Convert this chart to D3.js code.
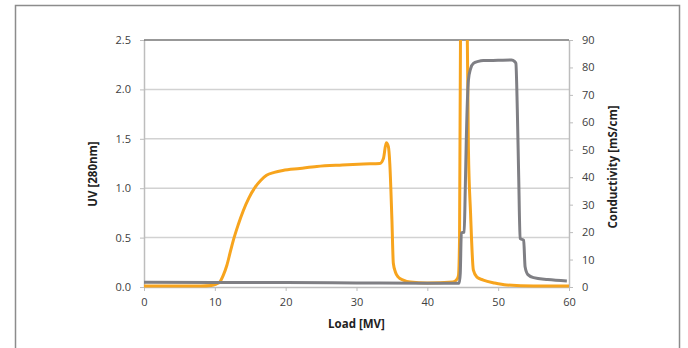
<!DOCTYPE html>
<meta charset="utf-8">
<html>
<head>
  <title>UV and conductivity vs load</title>
  <script src="https://d3js.org/d3.v7.min.js"></script>
  <style>
    body { margin: 0; background: #fff; }
    text { font-family: "Open Sans", "DejaVu Sans", sans-serif; }
  </style>
</head>
<body>
<div id="chart"></div>
<script>
  // load in MV
  var uvLoad = [0, 5, 8, 9.5, 10.2, 10.7, 11.2, 11.7, 12.2, 12.6, 13.3, 14.0, 14.8, 15.7, 16.5, 17.3, 18.4, 19.6, 22, 24.4, 28, 31, 33.3, 33.8, 34.2, 34.5, 34.7, 35.0, 35.2, 35.5, 35.9, 36.6, 37.6, 40, 43.6, 44.2, 44.4, 44.55, 44.7, 45.0, 45.4, 45.6, 45.8, 46.1, 46.5, 47.0, 47.9, 49.5, 51.2, 55, 60];
  var uvValue = [0.01, 0.01, 0.01, 0.015, 0.03, 0.05, 0.12, 0.22, 0.36, 0.47, 0.63, 0.77, 0.9, 1.01, 1.08, 1.13, 1.16, 1.18, 1.2, 1.22, 1.235, 1.245, 1.25, 1.3, 1.46, 1.42, 1.25, 0.68, 0.24, 0.15, 0.10, 0.07, 0.05, 0.04, 0.05, 0.08, 0.12, 0.5, 2.8, 3, 3, 2.8, 1.4, 0.75, 0.17, 0.1, 0.07, 0.04, 0.02, 0.01, 0.01];

  var condLoad = [0, 10, 20, 30, 40, 44.5, 44.65, 44.8, 45.2, 45.35, 45.5, 45.8, 46.1, 46.5, 47.2, 47.9, 50, 51.9, 52.3, 52.5, 52.7, 52.9, 53.1, 53.6, 53.8, 54.2, 55.0, 57, 59.7];
  var condValue = [1.7, 1.6, 1.6, 1.5, 1.4, 1.4, 5, 19.7, 20, 35, 53.5, 75.4, 79.5, 81.5, 82.2, 82.5, 82.6, 82.7, 82.2, 81.5, 65, 40, 17.7, 17, 7.4, 4.5, 3.4, 2.7, 2.2];

  var xTicks = [0, 10, 20, 30, 40, 50, 60];
  var uvTicks = [0, 0.5, 1.0, 1.5, 2.0, 2.5];
  var condTicks = [0, 10, 20, 30, 40, 50, 60, 70, 80, 90];

  var W = 688, H = 348;
  var margin = { top: 40, right: 119, bottom: 61, left: 144 };
  var width = W - margin.left - margin.right,
      height = H - margin.top - margin.bottom;

  var root = d3.select("#chart").append("svg")
    .attr("width", W).attr("height", H);

  // outer frame
  root.append("rect")
    .attr("x", 15.5).attr("y", 5.5)
    .attr("width", 664).attr("height", 360)
    .attr("fill", "none").attr("stroke", "#8c8c8c").attr("stroke-width", 1.5);

  var svg = root.append("g")
    .attr("transform", "translate(" + margin.left + "," + margin.top + ")");

  var x = d3.scaleLinear().domain([0, 60]).range([0, width]);
  var yUV = d3.scaleLinear().domain([0, 2.5]).range([height, 0]);
  var yCond = d3.scaleLinear().domain([0, 90]).range([height, 0]);

  // gridlines
  svg.append("g")
    .selectAll("line")
    .data(uvTicks.slice(1, -1))
    .enter().append("line")
    .attr("x1", 0).attr("x2", width)
    .attr("y1", function (d) { return yUV(d); })
    .attr("y2", function (d) { return yUV(d); })
    .attr("stroke", "#d2d2d2").attr("stroke-width", 1.5);

  function styleAxis(g) {
    g.select(".domain").attr("stroke", "#bdbdbd").attr("stroke-width", 1.5);
    g.selectAll(".tick line").attr("stroke", "#bdbdbd");
    g.selectAll(".tick text").attr("fill", "#404040").style("font-size", "11px");
  }

  svg.append("g")
    .attr("transform", "translate(0," + height + ")")
    .call(d3.axisBottom(x).tickValues(xTicks).tickSize(4).tickSizeOuter(0).tickPadding(7))
    .call(styleAxis);

  svg.append("g")
    .call(d3.axisLeft(yUV).tickValues(uvTicks).tickFormat(d3.format(".1f")).tickSize(4).tickSizeOuter(0).tickPadding(9))
    .call(styleAxis);

  svg.append("g")
    .attr("transform", "translate(" + width + ",0)")
    .call(d3.axisRight(yCond).tickValues(condTicks).tickSize(4).tickSizeOuter(0).tickPadding(9))
    .call(styleAxis);

  // dark top border
  svg.append("line")
    .attr("x1", 0).attr("x2", width).attr("y1", 0).attr("y2", 0)
    .attr("stroke", "#333").attr("stroke-width", 1.2);

  svg.append("clipPath").attr("id", "plot")
    .append("rect").attr("x", 0).attr("y", 0).attr("width", width).attr("height", height + 3);

  var uvLine = d3.line()
    .x(function (d) { return x(d[0]); })
    .y(function (d) { return yUV(d[1]); })
    .curve(d3.curveMonotoneX);

  var condLine = d3.line()
    .x(function (d) { return x(d[0]); })
    .y(function (d) { return yCond(d[1]); })
    .curve(d3.curveMonotoneX);

  svg.append("path")
    .datum(d3.zip(uvLoad, uvValue))
    .attr("clip-path", "url(#plot)")
    .attr("d", uvLine)
    .attr("fill", "none").attr("stroke", "#f7a41d").attr("stroke-width", 3)
    .attr("stroke-linejoin", "round");

  svg.append("path")
    .datum(d3.zip(condLoad, condValue))
    .attr("clip-path", "url(#plot)")
    .attr("d", condLine)
    .attr("fill", "none").attr("stroke", "#7f7f84").attr("stroke-width", 3)
    .attr("stroke-linejoin", "round");

  // axis titles
  svg.append("text")
    .attr("x", width / 2).attr("y", height + 41)
    .attr("text-anchor", "middle")
    .style("font-size", "11.5px").style("font-weight", "bold").attr("fill", "#222")
    .text("Load [MV]");

  svg.append("text")
    .attr("transform", "translate(" + (-47) + "," + 134 + ") rotate(-90)")
    .attr("text-anchor", "middle")
    .style("font-size", "11.5px").style("font-weight", "bold").attr("fill", "#222")
    .text("UV [280nm]");

  svg.append("text")
    .attr("transform", "translate(" + (width + 48) + "," + 127 + ") rotate(-90)")
    .attr("text-anchor", "middle")
    .style("font-size", "11.5px").style("font-weight", "bold").attr("fill", "#222")
    .text("Conductivity [mS/cm]");
</script>
</body>
</html>
